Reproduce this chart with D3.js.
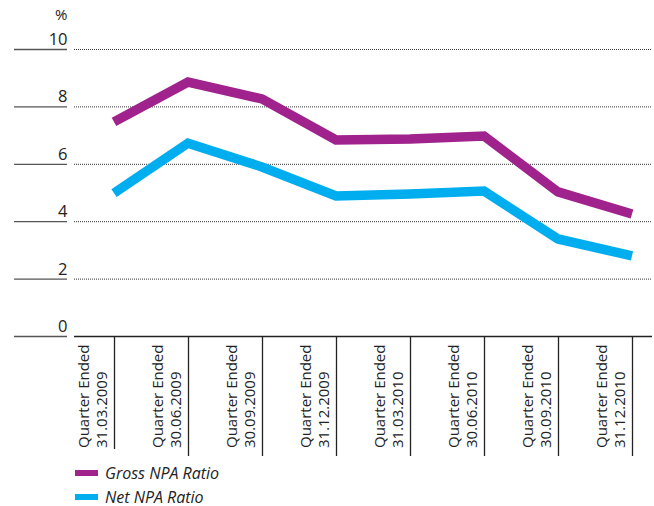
<!DOCTYPE html>
<html>
<head>
<meta charset="utf-8">
<script src="https://cdn.jsdelivr.net/npm/d3@7"></script>
<style>
  html, body { margin: 0; padding: 0; background: #fff; }
  svg { display: block; font-family: "Open Sans", "Noto Sans", sans-serif; }
</style>
</head>
<body>
<svg id="chart" width="654" height="506"></svg>
<script>
// Quarter labels (two lines each)
const quarterLines = [
  ["Quarter Ended", "31.03.2009"],
  ["Quarter Ended", "30.06.2009"],
  ["Quarter Ended", "30.09.2009"],
  ["Quarter Ended", "31.12.2009"],
  ["Quarter Ended", "31.03.2010"],
  ["Quarter Ended", "30.06.2010"],
  ["Quarter Ended", "30.09.2010"],
  ["Quarter Ended", "31.12.2010"]
];
const quarters = quarterLines.map(d => d[1]);

// NPA ratios, %
const grossNPA = [7.46, 8.85, 8.26, 6.83, 6.86, 6.97, 5.02, 4.25];
const netNPA   = [4.98, 6.72, 5.89, 4.88, 4.95, 5.05, 3.38, 2.79];

const yTicks = [0, 2, 4, 6, 8, 10];
const seriesNames = ["Gross NPA Ratio", "Net NPA Ratio"];
const seriesColors = ["#a0228c", "#00aeef"];

const svg = d3.select("#chart");

const x = d3.scalePoint().domain(quarters).range([114, 632]);
const y = d3.scaleLinear().domain([0, 10]).range([336, 49]);

// short solid tick rules on the left
svg.append("g").selectAll("line")
  .data(yTicks).join("line")
  .attr("x1", 14).attr("x2", 67)
  .attr("y1", d => y(d) + 0.5).attr("y2", d => y(d) + 0.5)
  .attr("stroke", "#555").attr("stroke-width", 1.3);

// tick labels
svg.append("g").selectAll("text")
  .data(yTicks).join("text")
  .attr("x", 67.5).attr("y", d => y(d) - 4)
  .attr("text-anchor", "end")
  .attr("font-size", 16.5)
  .attr("fill", "#222")
  .text(d => d);

svg.append("text")
  .attr("x", 67.5).attr("y", 20)
  .attr("text-anchor", "end")
  .attr("font-size", 15)
  .attr("fill", "#222")
  .text("%");

// dotted gridlines
svg.append("g").selectAll("line")
  .data(yTicks.filter(d => d > 0)).join("line")
  .attr("x1", 74).attr("x2", 652)
  .attr("y1", d => y(d) + 0.5).attr("y2", d => y(d) + 0.5)
  .attr("stroke", "#333").attr("stroke-width", 1)
  .attr("stroke-dasharray", "1,1");

// baseline
svg.append("line")
  .attr("x1", 74).attr("x2", 652)
  .attr("y1", y(0) + 0.5).attr("y2", y(0) + 0.5)
  .attr("stroke", "#222").attr("stroke-width", 1.3);

// category separators
svg.append("g").selectAll("line")
  .data(quarters).join("line")
  .attr("x1", d => x(d) + 0.5).attr("x2", d => x(d) + 0.5)
  .attr("y1", y(0)).attr("y2", (d, i) => i === 0 ? 449 : 456)
  .attr("stroke", "#222").attr("stroke-width", 1.3);

// rotated category labels, reading upward, left of each separator
const lab = svg.append("g").selectAll("text")
  .data(quarterLines).join("text")
  .attr("transform", (d, i) => `translate(${x(quarters[i]) - 25},448) rotate(-90)`)
  .attr("text-anchor", "start")
  .attr("font-size", 15)
  .attr("fill", "#222");
lab.selectAll("tspan")
  .data(d => d).join("tspan")
  .attr("x", 0)
  .attr("dy", (d, i) => i === 0 ? 0 : 18)
  .text(d => d);

// series lines
const line = d3.line()
  .x((d, i) => x(quarters[i]))
  .y(d => y(d));

[grossNPA, netNPA].forEach((vals, k) => {
  svg.append("path")
    .datum(vals)
    .attr("d", line)
    .attr("fill", "none")
    .attr("stroke", seriesColors[k])
    .attr("stroke-width", 9.5)
    .attr("stroke-linejoin", "miter");
});

// legend
const leg = svg.append("g").selectAll("g")
  .data(seriesNames).join("g")
  .attr("transform", (d, i) => `translate(75,${470 + i * 24})`);
leg.append("rect")
  .attr("width", 23).attr("height", 6)
  .attr("fill", (d, i) => seriesColors[i]);
leg.append("text")
  .attr("x", 30).attr("y", 8.5)
  .attr("font-size", 16)
  .attr("font-style", "italic")
  .attr("fill", "#222")
  .text(d => d);
</script>
</body>
</html>
